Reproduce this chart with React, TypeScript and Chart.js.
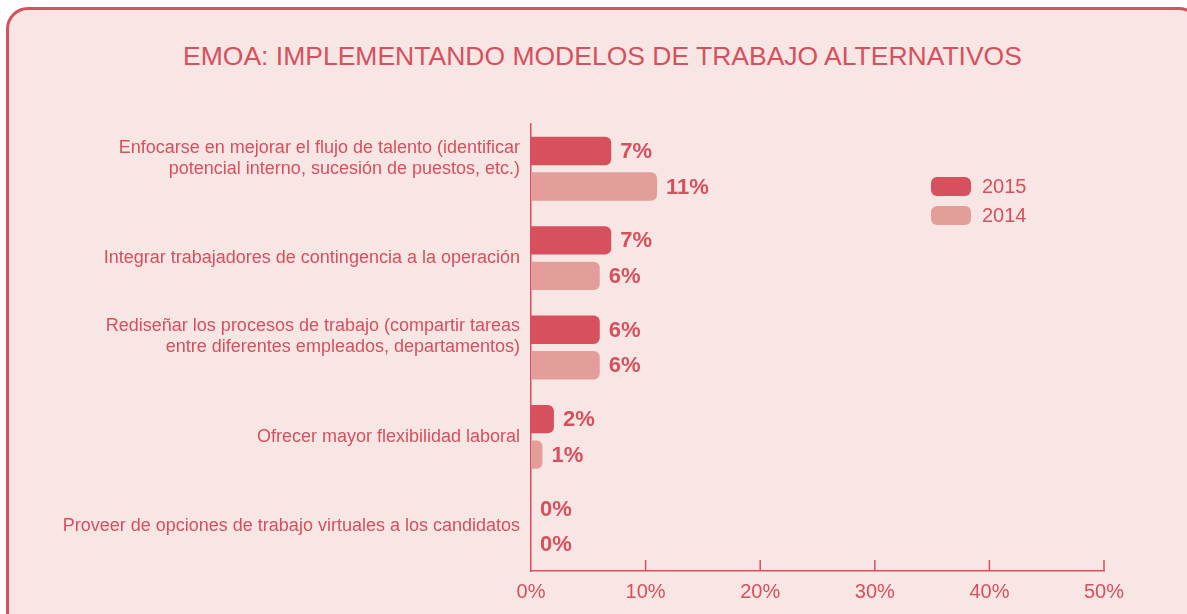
import React, { useEffect, useRef } from "react";
import { Chart, registerables } from "chart.js";

Chart.register(...registerables);

const TITLE = "EMOA: IMPLEMENTANDO MODELOS DE TRABAJO ALTERNATIVOS";
const categories: (string | string[])[] = [
  ["Enfocarse en mejorar el flujo de talento (identificar", "potencial interno, sucesión de puestos, etc.)", ""],
  "Integrar trabajadores de contingencia a la operación",
  ["Rediseñar los procesos de trabajo (compartir tareas", "entre diferentes empleados, departamentos)", ""],
  "Ofrecer mayor flexibilidad laboral",
  "Proveer de opciones de trabajo virtuales a los candidatos",
];
const seriesNames = ["2015", "2014"];
const values2015 = [7, 7, 6, 2, 0];
const values2014 = [11, 6, 6, 1, 0];
const xMin = 0;
const xMax = 50;
const xStep = 10;

const RED = "#d6505e";
const PINK = "#e49e9a";
const BG = "#f7e6e4";
const FONT = "'Liberation Sans', Arial, Helvetica, sans-serif";

const overlayPlugin = {
  id: "overlay",
  afterDatasetsDraw(chart: any) {
    const ctx = chart.ctx;
    const x = chart.scales.x;
    const area = chart.chartArea;
    ctx.save();
    // upward tick marks on x axis
    ctx.strokeStyle = RED;
    ctx.lineWidth = 1.5;
    x.ticks.forEach((t: any) => {
      const px = x.getPixelForValue(t.value);
      if (t.value === xMin) return;
      ctx.beginPath();
      ctx.moveTo(px, area.bottom);
      ctx.lineTo(px, area.bottom - 11);
      ctx.stroke();
    });
    // value labels
    ctx.fillStyle = RED;
    ctx.font = `bold 22px ${FONT}`;
    ctx.textBaseline = "middle";
    ctx.textAlign = "left";
    chart.data.datasets.forEach((ds: any, i: number) => {
      const meta = chart.getDatasetMeta(i);
      meta.data.forEach((el: any, j: number) => {
        ctx.fillText(`${ds.data[j]}%`, el.x + 9, el.y + 1);
      });
    });
    // legend
    const lx = 931;
    const ly = 177;
    chart.data.datasets.forEach((ds: any, i: number) => {
      const y = ly + i * 29;
      ctx.fillStyle = ds.backgroundColor;
      ctx.beginPath();
      (ctx as any).roundRect(lx, y, 40, 19, 6);
      ctx.fill();
      ctx.fillStyle = RED;
      ctx.font = `20px ${FONT}`;
      ctx.fillText(ds.label, lx + 51, y + 10);
    });
    ctx.restore();
  },
};

export default function App() {
  const ref = useRef<HTMLCanvasElement | null>(null);
  useEffect(() => {
    if (!ref.current) return;
    const chart = new Chart(ref.current, {
      type: "bar",
      data: {
        labels: categories,
        datasets: [
          { label: seriesNames[0], data: values2015, backgroundColor: RED, borderRadius: 6, borderSkipped: "start" },
          { label: seriesNames[1], data: values2014, backgroundColor: PINK, borderRadius: 6, borderSkipped: "start" },
        ],
      },
      options: {
        indexAxis: "y",
        responsive: false,
        animation: false,
        events: [],
        layout: { padding: { top: 124, right: 83, left: 0, bottom: 0 } },
        datasets: { bar: { categoryPercentage: 0.794, barPercentage: 0.8 } },
        plugins: { legend: { display: false }, title: { display: false }, tooltip: { enabled: false } },
        scales: {
          x: {
            min: xMin,
            max: xMax,
            grid: { display: false, drawTicks: false },
            border: { display: true, color: RED, width: 1.5 },
            ticks: {
              stepSize: xStep,
              color: RED,
              padding: 9,
              font: { family: FONT, size: 20 },
              callback: (v: any) => `${v}%`,
            },
            afterFit: (s: any) => {
              s.height = 43;
            },
          },
          y: {
            grid: { display: false, drawTicks: false },
            border: { display: true, color: RED, width: 1.5 },
            ticks: {
              color: RED,
              padding: 11,
              font: { family: FONT, size: 18, lineHeight: 1.1667 },
            },
            afterFit: (s: any) => {
              s.width = 531;
            },
          },
        },
      },
      plugins: [overlayPlugin],
    });
    return () => chart.destroy();
  }, []);

  return (
    <div style={{ position: "fixed", left: 0, top: 0, width: 1187, height: 614, background: "#fff", overflow: "hidden" }}>
      <div
        style={{
          position: "absolute",
          left: 6,
          top: 7,
          width: 1195,
          height: 700,
          boxSizing: "border-box",
          border: `3.5px solid ${RED}`,
          borderRadius: 22,
          background: BG,
        }}
      />
      <div
        style={{
          position: "absolute",
          left: 0,
          width: 1205,
          top: 40,
          textAlign: "center",
          color: RED,
          fontFamily: FONT,
          fontSize: 26.5,
          lineHeight: "32px",
        }}
      >
        {TITLE}
      </div>
      <canvas ref={ref} width={1187} height={614} style={{ position: "absolute", left: 0, top: 0 }} />
    </div>
  );
}
